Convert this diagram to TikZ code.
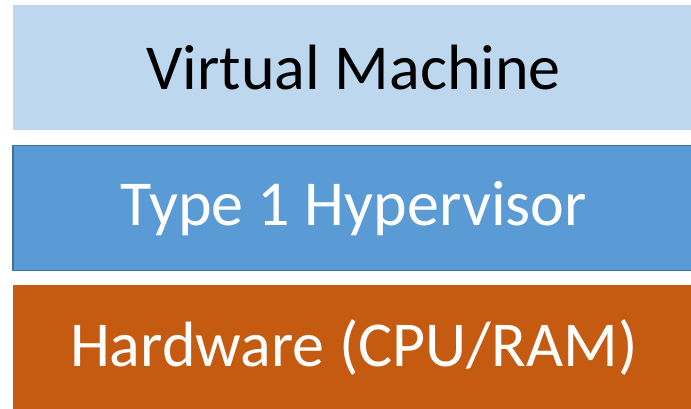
\documentclass[tikz,border=0pt]{standalone}
\usepackage{fontspec}
\setmainfont{Carlito}
\usepackage{xcolor}
\definecolor{vmblue}{RGB}{189,215,238}
\definecolor{hypblue}{RGB}{91,155,213}
\definecolor{hypedge}{RGB}{65,113,156}
\definecolor{hworange}{RGB}{197,90,17}
\usepackage{tikz}
\usetikzlibrary{positioning}
\tikzset{
  layer/.style={anchor=south west, minimum width=682pt, minimum height=125pt,
    inner sep=0pt, line width=1.5pt, font=\fontsize{64}{72}\selectfont}
}

\begin{document}
\begin{tikzpicture}[x=1pt,y=1pt]
    % Ramka obrazu 691 x 409
    \useasboundingbox (0,0) rectangle (691,409);
    \clip (0,0) rectangle (691,409);
    % Warstwy od góry: y dolnej krawędzi, wypełnienie, obrys, kolor tekstu
    \foreach \name/\y/\fillc/\edgec/\textc/\label in {vm/278/vmblue/none/black/Virtual Machine, hyp/137.5/hypblue/hypedge/white/Type 1 Hypervisor, hw/-2/hworange/none/white/{Hardware (CPU/RAM)}} {
        \node[layer, fill=\fillc, draw=\edgec, text=\textc] (\name) at (12,\y) {\label};
    }
\end{tikzpicture}
\end{document}
